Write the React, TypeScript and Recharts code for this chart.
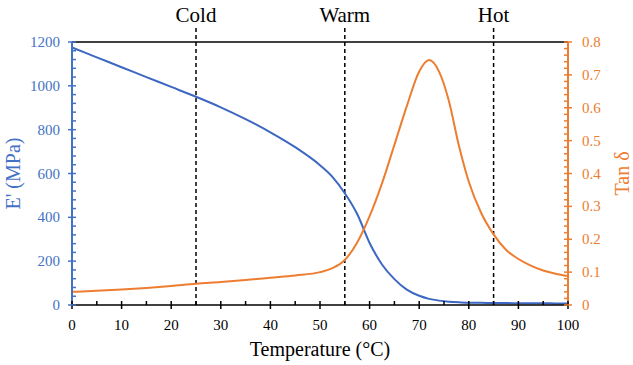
import { LineChart, Line, XAxis, YAxis, ReferenceLine } from 'recharts';

const temps = [0, 5, 10, 15, 20, 25, 30, 35, 40, 45, 50, 52.5, 55, 57.5, 60, 62.5, 65, 67.5, 70, 72, 74, 76, 78, 80, 82.5, 85, 87.5, 90, 92.5, 95, 97.5, 100];
const storageModulus = [1175, 1130, 1085, 1040, 995, 950, 902, 848, 788, 720, 638, 585, 510, 415, 283, 185, 118, 70, 42, 28, 20, 15, 12, 10, 10, 9, 9, 8, 8, 8, 7, 7];
const tanDelta = [0.04, 0.043, 0.047, 0.052, 0.058, 0.065, 0.07, 0.076, 0.083, 0.09, 0.1, 0.112, 0.137, 0.19, 0.27, 0.37, 0.487, 0.605, 0.71, 0.745, 0.71, 0.62, 0.485, 0.375, 0.28, 0.215, 0.168, 0.14, 0.12, 0.105, 0.095, 0.088];

const zones = ['Cold', 'Warm', 'Hot'];
const zoneTemps = [25, 55, 85];

const xTicks = Array.from({ length: 21 }, (_, i) => i * 5);
const leftTicks = Array.from({ length: 31 }, (_, i) => i * 40);
const rightTicks = Array.from({ length: 41 }, (_, i) => i / 50);

const BLUE = '#4472C4';
const LINE_BLUE = '#3C67C2';
const ORANGE = '#ED7D31';
const FONT = 'Liberation Serif, serif';

const data = temps.map((t, i) => ({ t, e: storageModulus[i], tan: tanDelta[i] }));

const XTick = ({ x, y, payload }: any) => {
  const major = payload.value % 10 === 0;
  return (
    <g>
      <line x1={x} x2={x} y1={y - 4} y2={major ? y + 4 : y} stroke="#000" strokeWidth={1.5} />
      {major && (
        <text x={x} y={y + 25} textAnchor="middle" style={{ fontSize: 15, fontFamily: FONT }} fill="#000">
          {payload.value}
        </text>
      )}
    </g>
  );
};

const LeftTick = ({ x, y, payload }: any) => {
  const major = payload.value % 200 === 0;
  return (
    <g>
      <line x1={major ? x - 4 : x} x2={x + 4} y1={y} y2={y} stroke={BLUE} strokeWidth={1.5} />
      {major && (
        <text x={x - 12} y={y + 5} textAnchor="end" style={{ fontSize: 15, fontFamily: FONT }} fill={BLUE}>
          {payload.value}
        </text>
      )}
    </g>
  );
};

const RightTick = ({ x, y, payload }: any) => {
  const hundredths = Math.round(payload.value * 100);
  const major = hundredths % 10 === 0;
  return (
    <g>
      <line x1={x - 4} x2={major ? x + 4 : x} y1={y} y2={y} stroke={ORANGE} strokeWidth={1.5} />
      {major && (
        <text x={x + 14} y={y + 5} textAnchor="start" style={{ fontSize: 15, fontFamily: FONT }} fill={ORANGE}>
          {hundredths === 0 ? '0' : (hundredths / 100).toFixed(1)}
        </text>
      )}
    </g>
  );
};

export default function App() {
  return (
    <div style={{ fontFamily: FONT }}>
      <style>{`body{margin:0;background:#fff} svg text{font-family:"Liberation Serif",serif}`}</style>
      <LineChart width={633} height={365} data={data} margin={{ top: 42, right: 0, bottom: 0, left: 0 }}>
        <XAxis
          dataKey="t"
          type="number"
          domain={[0, 100]}
          ticks={xTicks}
          interval={0}
          height={60}
          tickSize={0}
          tickMargin={0}
          tickLine={false}
          axisLine={{ stroke: '#000', strokeWidth: 1.5 }}
          tick={<XTick />}
          label={{ value: 'Temperature (°C)', position: 'insideBottom', offset: 9, fontSize: 20, fill: '#000' }}
        />
        <YAxis
          yAxisId="left"
          domain={[0, 1200]}
          ticks={leftTicks}
          interval={0}
          width={72}
          tickSize={0}
          tickMargin={0}
          tickLine={false}
          axisLine={{ stroke: BLUE, strokeWidth: 2 }}
          tick={<LeftTick />}
          label={{ value: "E' (MPa)", angle: -90, position: 'insideLeft', offset: 13, textAnchor: 'middle', fontSize: 20, fill: BLUE }}
        />
        <YAxis
          yAxisId="right"
          orientation="right"
          domain={[0, 0.8]}
          ticks={rightTicks}
          interval={0}
          width={65}
          tickSize={0}
          tickMargin={0}
          tickLine={false}
          axisLine={{ stroke: ORANGE, strokeWidth: 2 }}
          tick={<RightTick />}
          label={{ value: 'Tan δ', angle: -90, position: 'insideRight', offset: 11, textAnchor: 'middle', fontSize: 20, fill: ORANGE }}
        />
        <ReferenceLine yAxisId="left" y={1200} stroke="#000" strokeWidth={1.5} />
        {zoneTemps.map((t, i) => (
          <ReferenceLine
            key={zones[i]}
            yAxisId="left"
            segment={[{ x: t, y: 0 }, { x: t, y: 1278 }]}
            ifOverflow="visible"
            stroke="#000"
            strokeWidth={1.5}
            strokeDasharray="4 3"
            label={{ value: zones[i], position: 'top', offset: 3, fontSize: 21, fill: '#000' }}
          />
        ))}
        <Line yAxisId="left" type="monotone" dataKey="e" stroke={LINE_BLUE} strokeWidth={2} dot={false} isAnimationActive={false} />
        <Line yAxisId="right" type="monotone" dataKey="tan" stroke={ORANGE} strokeWidth={2} dot={false} isAnimationActive={false} />
      </LineChart>
    </div>
  );
}
